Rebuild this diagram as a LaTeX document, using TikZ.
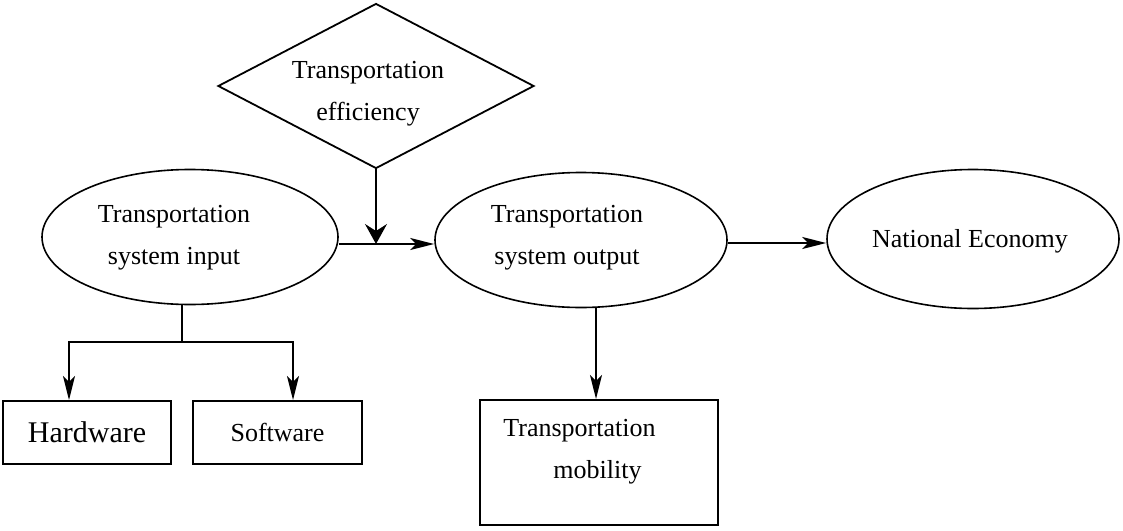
\documentclass[tikz,border=0pt]{standalone}
\usepackage{fontspec}
\setmainfont{Liberation Serif}
\usetikzlibrary{shapes.geometric,arrows.meta}
\begin{document}
\begin{tikzpicture}[x=0.5pt,y=-0.5pt,
  oval/.style={draw, ellipse, line width=0.8pt, inner sep=0pt},
  dia/.style={draw, diamond, line width=0.9pt, inner sep=0pt},
  boxnode/.style={draw, rectangle, line width=1pt, inner sep=0pt},
  txt/.style={font=\fontsize{13pt}{21pt}\selectfont, align=center, inner sep=0pt},
  conn/.style={line width=0.8pt},
  arr/.style={conn, -{Stealth[length=12pt, width=6pt, inset=3pt]}},
  bigarr/.style={conn, -{Stealth[length=10pt, width=11pt, inset=3.5pt]}}
]
\useasboundingbox (0,0) rectangle (1123,530);

% shapes
\node[dia, minimum width=158pt, minimum height=82.5pt] (eff) at (376,86) {};
\node[txt] (efft) at (368,94) {Transportation\\efficiency};

\node[oval, minimum width=148pt, minimum height=67.5pt] (in) at (190,237) {};
\node[txt] (intxt) at (174,238) {Transportation\\system input};

\node[oval, minimum width=146pt, minimum height=67.5pt] (out) at (581,240) {};
\node[txt] (outtxt) at (567,238) {Transportation\\system output};

\node[oval, minimum width=146pt, minimum height=69.5pt] (econ) at (973,239) {};
\node[txt] (econtxt) at (970,241) {National Economy};

\node[boxnode, minimum width=84pt, minimum height=31.5pt, font=\fontsize{15pt}{18pt}\selectfont] (hw) at (87,432.5) {Hardware};
\node[boxnode, minimum width=84.5pt, minimum height=31.5pt, font=\fontsize{13pt}{16pt}\selectfont] (sw) at (277.5,432.5) {Software};

\node[boxnode, minimum width=119pt, minimum height=62.5pt] (mob) at (599,462.5) {};
\node[txt, align=left, anchor=west] (mobtxt) at (503,452) {Transportation\\\hspace*{25pt}mobility};

% junctions
\coordinate (j) at (376,244);
\coordinate (k) at (0,243);
\coordinate (b) at (182,342);
\coordinate (m) at (596,0);

% connectors
\draw[conn] (in.east |- j) -- (j);
\draw[arr] (j) -- (out.west |- j);
\draw[bigarr] (eff.south) -- (j);
\draw[arr] (out.east |- k) -- (econ.west |- k);
\draw[arr] (m |- out.south) -- (m |- mob.north);
\draw[conn] (b |- in.south) -- (b);
\draw[arr] (b) -| ([xshift=-9pt]hw.north);
\draw[arr] (b) -| ([xshift=7.75pt]sw.north);
\end{tikzpicture}
\end{document}
